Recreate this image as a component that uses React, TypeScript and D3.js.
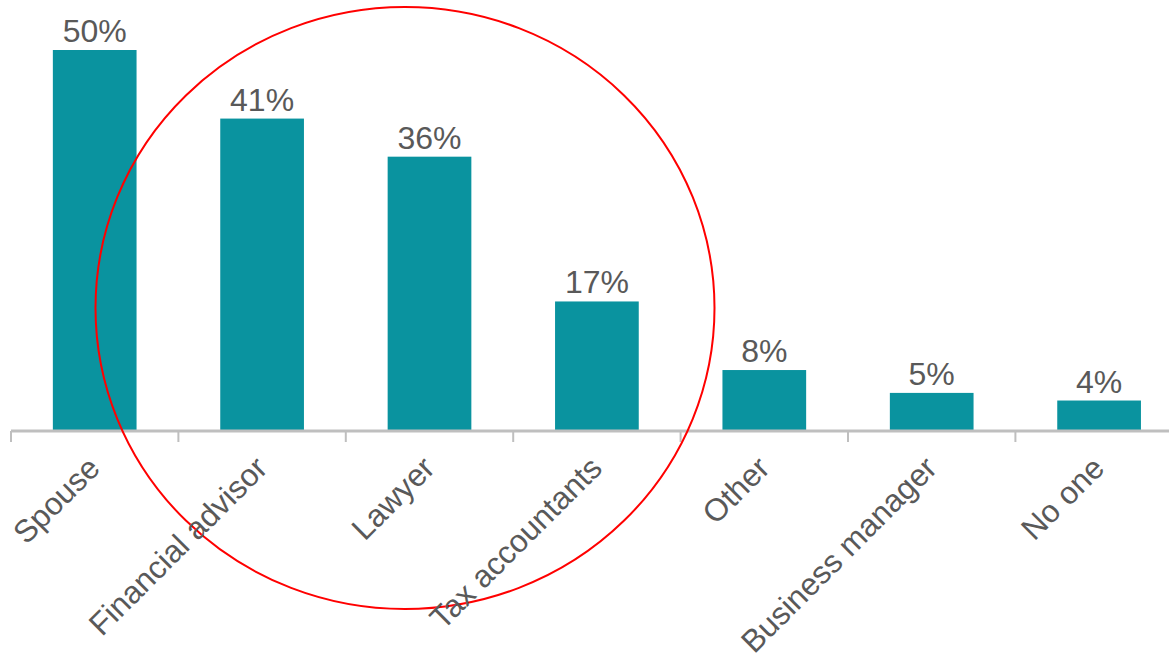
import React from "react";
import * as d3 from "d3";

const categories = ["Spouse", "Financial advisor", "Lawyer", "Tax accountants", "Other", "Business manager", "No one"];
const values = [50, 41, 36, 17, 8, 5, 4];
const valueLabels = ["50%", "41%", "36%", "17%", "8%", "5%", "4%"];

const W = 1169;
const H = 658;
const FONT = "'Liberation Sans', Arial, sans-serif";

export default function App() {
  const x0 = 11;
  const step = 167.4;
  const x = d3
    .scaleBand<string>()
    .domain(categories)
    .range([x0, x0 + step * categories.length])
    .paddingInner(0.5)
    .paddingOuter(0.25);
  const y = d3.scaleLinear().domain([0, 50]).range([431, 50]);
  const base = y(0);
  const ticks = d3.range(categories.length + 1).map((i) => x0 + i * x.step());

  return (
    <svg
      width={W}
      height={H}
      style={{ position: "absolute", left: 0, top: 0, background: "#fff" }}
      fontFamily={FONT}
    >
      {categories.map((c, i) => (
        <rect
          key={c}
          x={x(c)}
          y={y(values[i])}
          width={x.bandwidth()}
          height={base - y(values[i])}
          fill="#0A939F"
        />
      ))}
      <line x1={x0} x2={x0 + x.step() * categories.length} y1={base} y2={base} stroke="#BFBFBF" strokeWidth={3} />
      {ticks.map((t, i) => (
        <line key={i} x1={t} x2={t} y1={base} y2={base + 11} stroke="#BFBFBF" strokeWidth={2} />
      ))}
      {categories.map((c, i) => (
        <text
          key={c}
          x={(x(c) as number) + x.bandwidth() / 2}
          y={y(values[i]) - 8}
          textAnchor="middle"
          fontSize={32}
          fill="#595959"
        >
          {valueLabels[i]}
        </text>
      ))}
      <ellipse cx={405} cy={308} rx={309.5} ry={301} fill="none" stroke="#FF0000" strokeWidth={2} />
      {categories.map((c) => {
        const cx = (x(c) as number) + x.bandwidth() / 2 + 7;
        const cy = 470;
        return (
          <text
            key={c}
            transform={`translate(${cx},${cy}) rotate(-45)`}
            textAnchor="end"
            fontSize={31.5}
            fill="#595959"
          >
            {c}
          </text>
        );
      })}
    </svg>
  );
}
